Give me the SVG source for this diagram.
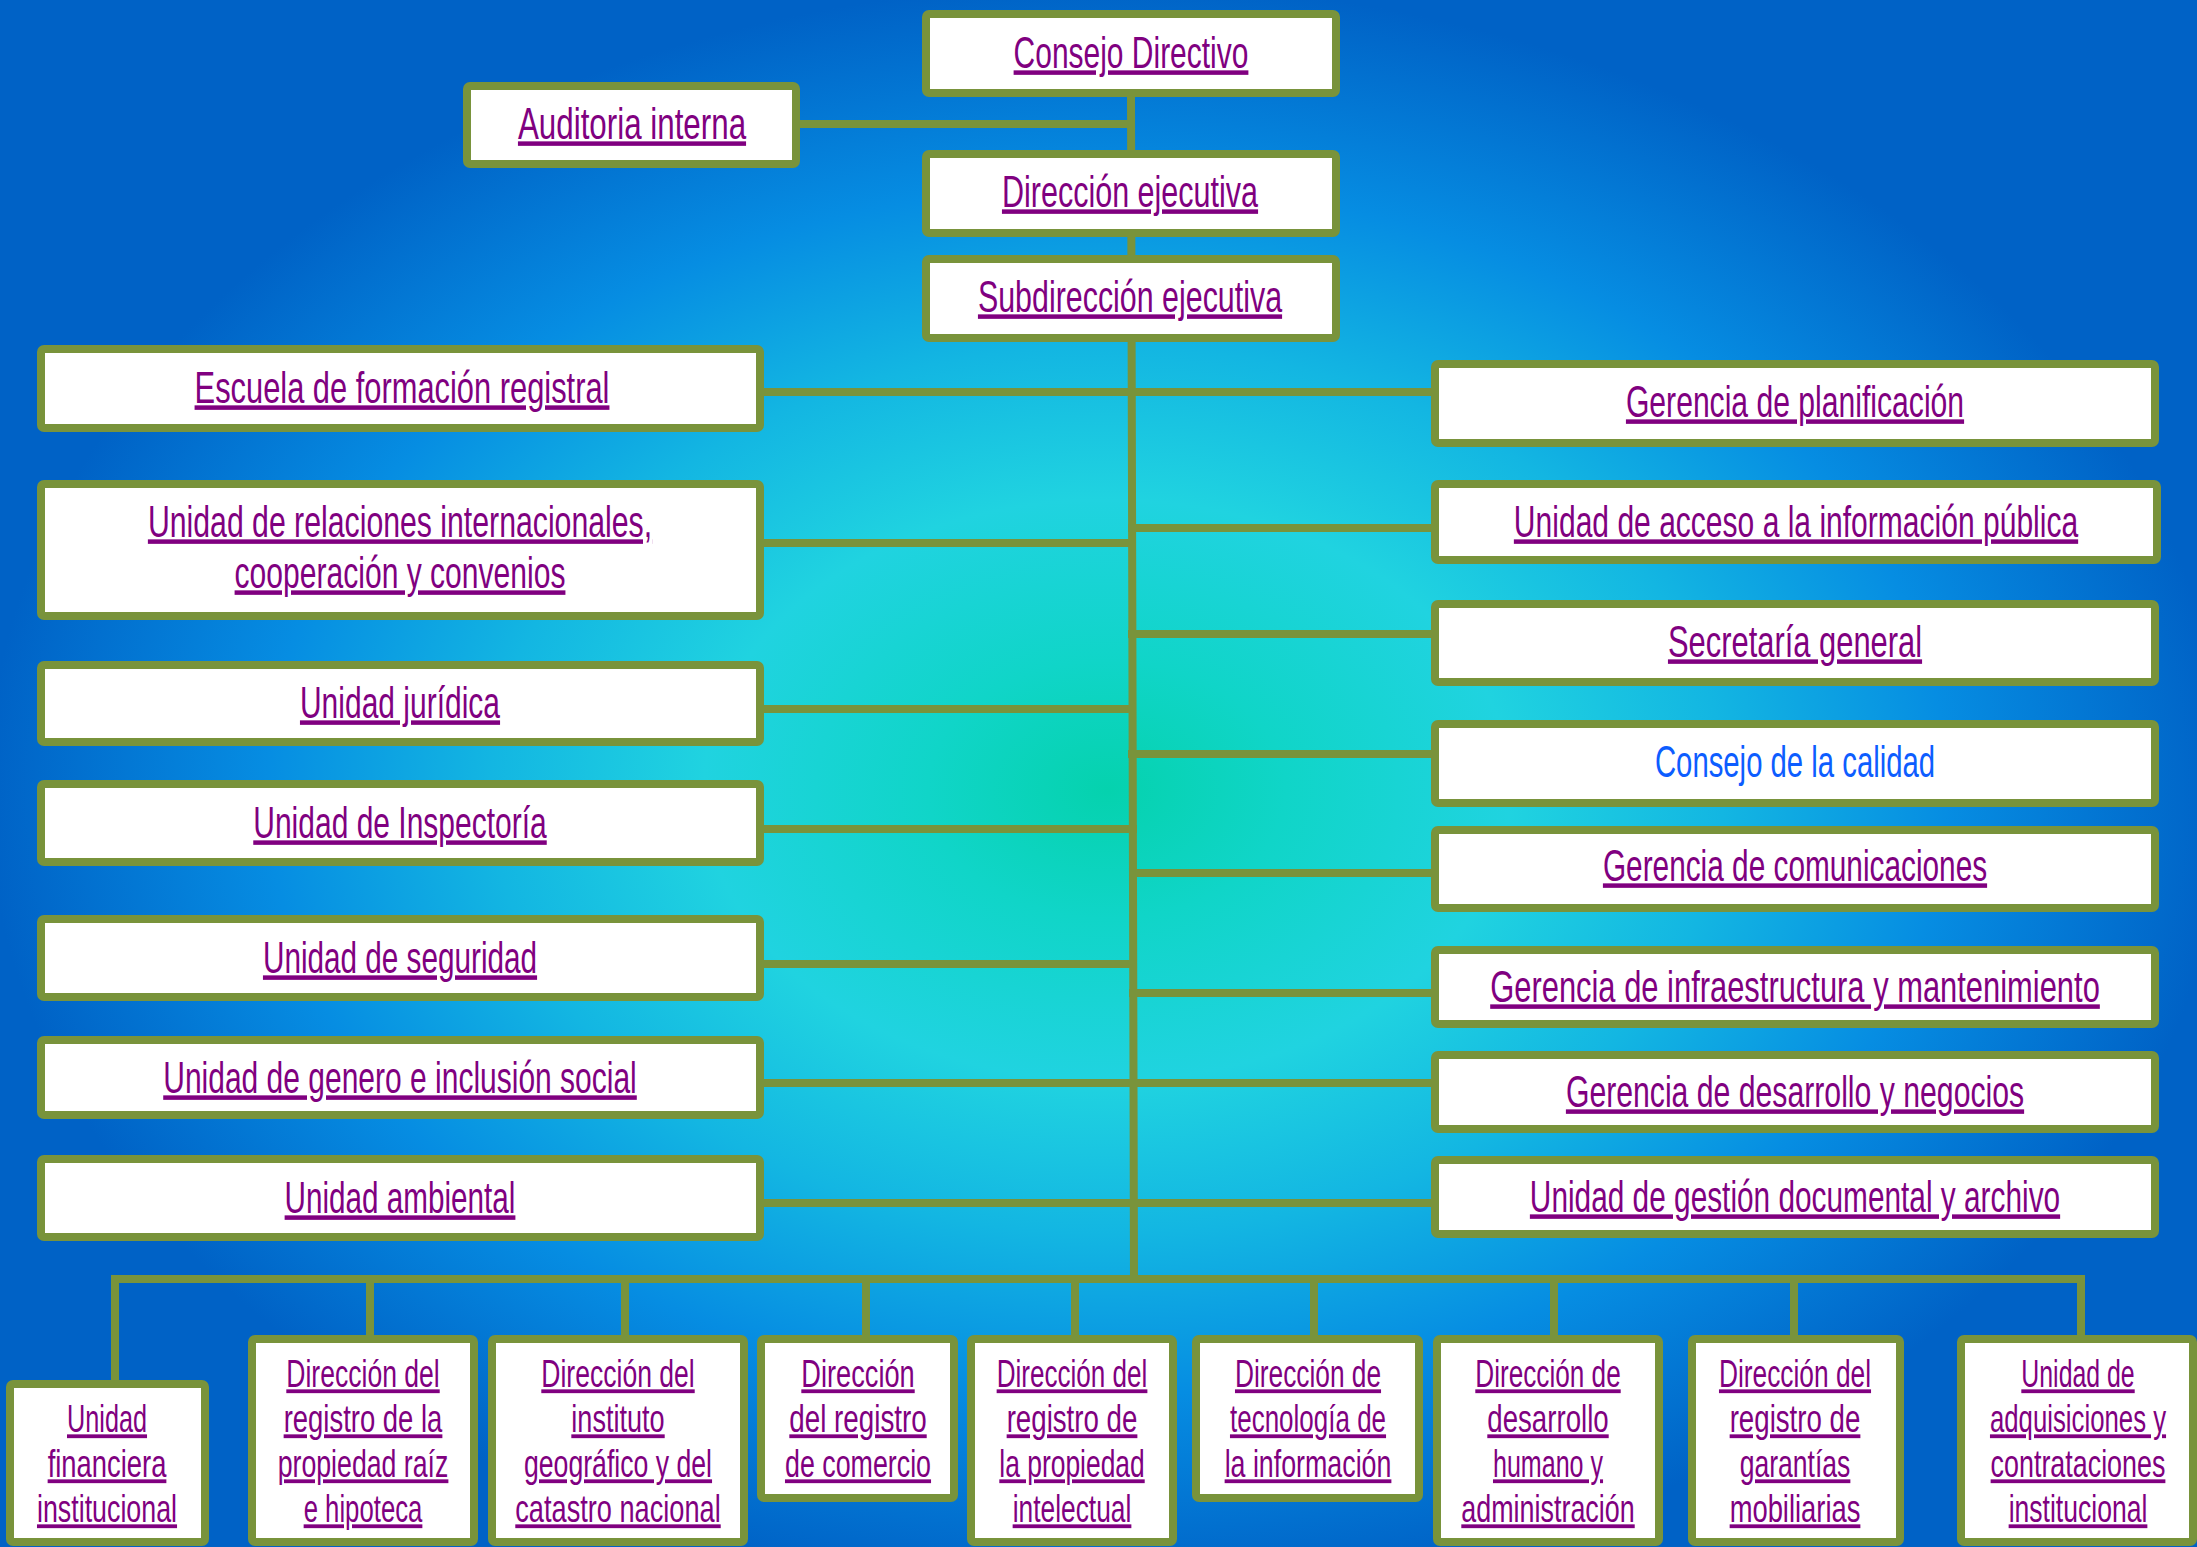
<svg xmlns="http://www.w3.org/2000/svg" width="2197" height="1547" viewBox="0 0 2197 1547">
<defs>
<radialGradient id="bg" gradientUnits="userSpaceOnUse" cx="1107" cy="790" r="1120" gradientTransform="translate(1107 790) scale(1 0.72) translate(-1107 -790)">
<stop offset="0" stop-color="#05d2ae"/>
<stop offset="0.16" stop-color="#10d5c8"/>
<stop offset="0.36" stop-color="#20d3e0"/>
<stop offset="0.55" stop-color="#13b6e2"/>
<stop offset="0.75" stop-color="#068de2"/>
<stop offset="1" stop-color="#0062c6"/>
</radialGradient>
<style>
.box{fill:#ffffff;stroke:#79933B;stroke-width:8;}
.c{fill:none;stroke:#79933B;stroke-width:8;stroke-linecap:square;}
.t{font-family:"Liberation Sans",Arial,sans-serif;font-size:45px;fill:#800080;text-anchor:middle;text-decoration:underline;}
.s{font-size:38px;}
.blue{fill:#0d5dff;text-decoration:none;}
</style>
</defs>
<rect x="0" y="0" width="2197" height="1547" fill="url(#bg)"/>

<g id="connectors">
<polyline class="c" points="1131,97 1134,1279"/>
<line class="c" x1="800" y1="124" x2="1131" y2="124"/>
<line class="c" x1="764" y1="392" x2="1431" y2="392"/>
<line class="c" x1="764" y1="543" x2="1132" y2="543"/>
<line class="c" x1="764" y1="709" x2="1132" y2="709"/>
<line class="c" x1="764" y1="829" x2="1133" y2="829"/>
<line class="c" x1="764" y1="964" x2="1133" y2="964"/>
<line class="c" x1="764" y1="1083" x2="1431" y2="1083"/>
<line class="c" x1="764" y1="1203" x2="1431" y2="1203"/>
<line class="c" x1="1132" y1="528" x2="1431" y2="528"/>
<line class="c" x1="1132" y1="634" x2="1431" y2="634"/>
<line class="c" x1="1132" y1="754" x2="1431" y2="754"/>
<line class="c" x1="1133" y1="873" x2="1431" y2="873"/>
<line class="c" x1="1133" y1="993" x2="1431" y2="993"/>
<polyline class="c" points="115,1384 115,1279 2081,1279 2081,1339"/>
<line class="c" x1="370" y1="1279" x2="370" y2="1339"/>
<line class="c" x1="625" y1="1279" x2="625" y2="1339"/>
<line class="c" x1="866" y1="1279" x2="866" y2="1339"/>
<line class="c" x1="1075" y1="1279" x2="1075" y2="1339"/>
<line class="c" x1="1314" y1="1279" x2="1314" y2="1339"/>
<line class="c" x1="1554" y1="1279" x2="1554" y2="1339"/>
<line class="c" x1="1794" y1="1279" x2="1794" y2="1339"/>
</g>

<g id="consejo-directivo"><rect class="box" x="926" y="14" width="410" height="79" rx="3"/><text class="t" transform="translate(1131 68) scale(0.667 1)" textLength="352" lengthAdjust="spacingAndGlyphs">Consejo Directivo</text></g>
<g id="auditoria-interna"><rect class="box" x="467" y="86" width="329" height="78" rx="3"/><text class="t" transform="translate(632 139) scale(0.667 1)" textLength="342" lengthAdjust="spacingAndGlyphs">Auditoria interna</text></g>
<g id="direccion-ejecutiva"><rect class="box" x="926" y="154" width="410" height="79" rx="3"/><text class="t" transform="translate(1130 207) scale(0.667 1)" textLength="384" lengthAdjust="spacingAndGlyphs">Dirección ejecutiva</text></g>
<g id="subdireccion-ejecutiva"><rect class="box" x="926" y="259" width="410" height="79" rx="3"/><text class="t" transform="translate(1130 312) scale(0.667 1)" textLength="456" lengthAdjust="spacingAndGlyphs">Subdirección ejecutiva</text></g>

<g id="escuela"><rect class="box" x="41" y="349" width="719" height="79" rx="3"/><text class="t" transform="translate(402 403) scale(0.667 1)" textLength="622" lengthAdjust="spacingAndGlyphs">Escuela de formación registral</text></g>
<g id="relaciones"><rect class="box" x="41" y="484" width="719" height="132" rx="3"/><text class="t" transform="translate(400 537) scale(0.667 1)" textLength="756" lengthAdjust="spacingAndGlyphs">Unidad de relaciones internacionales,</text><text class="t" transform="translate(400 588) scale(0.667 1)" textLength="496" lengthAdjust="spacingAndGlyphs">cooperación y convenios</text></g>
<g id="juridica"><rect class="box" x="41" y="665" width="719" height="77" rx="3"/><text class="t" transform="translate(400 718) scale(0.667 1)" textLength="300" lengthAdjust="spacingAndGlyphs">Unidad jurídica</text></g>
<g id="inspectoria"><rect class="box" x="41" y="784" width="719" height="78" rx="3"/><text class="t" transform="translate(400 838) scale(0.667 1)" textLength="440" lengthAdjust="spacingAndGlyphs">Unidad de Inspectoría</text></g>
<g id="seguridad"><rect class="box" x="41" y="919" width="719" height="78" rx="3"/><text class="t" transform="translate(400 973) scale(0.667 1)" textLength="411" lengthAdjust="spacingAndGlyphs">Unidad de seguridad</text></g>
<g id="genero"><rect class="box" x="41" y="1040" width="719" height="75" rx="3"/><text class="t" transform="translate(400 1093) scale(0.667 1)" textLength="710" lengthAdjust="spacingAndGlyphs">Unidad de genero e inclusión social</text></g>
<g id="ambiental"><rect class="box" x="41" y="1159" width="719" height="78" rx="3"/><text class="t" transform="translate(400 1213) scale(0.667 1)" textLength="346" lengthAdjust="spacingAndGlyphs">Unidad ambiental</text></g>

<g id="planificacion"><rect class="box" x="1435" y="364" width="720" height="79" rx="3"/><text class="t" transform="translate(1795 417) scale(0.667 1)" textLength="507" lengthAdjust="spacingAndGlyphs">Gerencia de planificación</text></g>
<g id="acceso-informacion"><rect class="box" x="1435" y="484" width="722" height="76" rx="3"/><text class="t" transform="translate(1796 537) scale(0.667 1)" textLength="846" lengthAdjust="spacingAndGlyphs">Unidad de acceso a la información pública</text></g>
<g id="secretaria"><rect class="box" x="1435" y="604" width="720" height="78" rx="3"/><text class="t" transform="translate(1795 657) scale(0.667 1)" textLength="381" lengthAdjust="spacingAndGlyphs">Secretaría general</text></g>
<g id="consejo-calidad"><rect class="box" x="1435" y="724" width="720" height="79" rx="3"/><text class="t blue" transform="translate(1795 777) scale(0.667 1)" textLength="420" lengthAdjust="spacingAndGlyphs">Consejo de la calidad</text></g>
<g id="comunicaciones"><rect class="box" x="1435" y="830" width="720" height="78" rx="3"/><text class="t" transform="translate(1795 881) scale(0.667 1)" textLength="576" lengthAdjust="spacingAndGlyphs">Gerencia de comunicaciones</text></g>
<g id="infraestructura"><rect class="box" x="1435" y="950" width="720" height="74" rx="3"/><text class="t" transform="translate(1795 1002) scale(0.667 1)" textLength="914" lengthAdjust="spacingAndGlyphs">Gerencia de infraestructura y mantenimiento</text></g>
<g id="desarrollo-negocios"><rect class="box" x="1435" y="1055" width="720" height="74" rx="3"/><text class="t" transform="translate(1795 1107) scale(0.667 1)" textLength="687" lengthAdjust="spacingAndGlyphs">Gerencia de desarrollo y negocios</text></g>
<g id="gestion-documental"><rect class="box" x="1435" y="1160" width="720" height="74" rx="3"/><text class="t" transform="translate(1795 1212) scale(0.667 1)" textLength="795" lengthAdjust="spacingAndGlyphs">Unidad de gestión documental y archivo</text></g>

<g id="financiera"><rect class="box" x="10" y="1384" width="195" height="158" rx="3"/>
<text class="t s" transform="translate(107 1432) scale(0.667 1)" textLength="120" lengthAdjust="spacingAndGlyphs">Unidad</text>
<text class="t s" transform="translate(107 1477) scale(0.667 1)" textLength="178" lengthAdjust="spacingAndGlyphs">financiera</text>
<text class="t s" transform="translate(107 1522) scale(0.667 1)" textLength="210" lengthAdjust="spacingAndGlyphs">institucional</text></g>
<g id="propiedad-raiz"><rect class="box" x="252" y="1339" width="222" height="203" rx="3"/>
<text class="t s" transform="translate(363 1387) scale(0.667 1)" textLength="230" lengthAdjust="spacingAndGlyphs">Dirección del</text>
<text class="t s" transform="translate(363 1432) scale(0.667 1)" textLength="238" lengthAdjust="spacingAndGlyphs">registro de la</text>
<text class="t s" transform="translate(363 1477) scale(0.667 1)" textLength="256" lengthAdjust="spacingAndGlyphs">propiedad raíz</text>
<text class="t s" transform="translate(363 1522) scale(0.667 1)" textLength="178" lengthAdjust="spacingAndGlyphs">e hipoteca</text></g>
<g id="instituto-geografico"><rect class="box" x="492" y="1339" width="252" height="203" rx="3"/>
<text class="t s" transform="translate(618 1387) scale(0.667 1)" textLength="230" lengthAdjust="spacingAndGlyphs">Dirección del</text>
<text class="t s" transform="translate(618 1432) scale(0.667 1)" textLength="140" lengthAdjust="spacingAndGlyphs">instituto</text>
<text class="t s" transform="translate(618 1477) scale(0.667 1)" textLength="282" lengthAdjust="spacingAndGlyphs">geográfico y del</text>
<text class="t s" transform="translate(618 1522) scale(0.667 1)" textLength="308" lengthAdjust="spacingAndGlyphs">catastro nacional</text></g>
<g id="registro-comercio"><rect class="box" x="761" y="1339" width="193" height="159" rx="3"/>
<text class="t s" transform="translate(858 1387) scale(0.667 1)" textLength="170" lengthAdjust="spacingAndGlyphs">Dirección</text>
<text class="t s" transform="translate(858 1432) scale(0.667 1)" textLength="206" lengthAdjust="spacingAndGlyphs">del registro</text>
<text class="t s" transform="translate(858 1477) scale(0.667 1)" textLength="219" lengthAdjust="spacingAndGlyphs">de comercio</text></g>
<g id="propiedad-intelectual"><rect class="box" x="971" y="1339" width="202" height="203" rx="3"/>
<text class="t s" transform="translate(1072 1387) scale(0.667 1)" textLength="226" lengthAdjust="spacingAndGlyphs">Dirección del</text>
<text class="t s" transform="translate(1072 1432) scale(0.667 1)" textLength="196" lengthAdjust="spacingAndGlyphs">registro de</text>
<text class="t s" transform="translate(1072 1477) scale(0.667 1)" textLength="218" lengthAdjust="spacingAndGlyphs">la propiedad</text>
<text class="t s" transform="translate(1072 1522) scale(0.667 1)" textLength="178" lengthAdjust="spacingAndGlyphs">intelectual</text></g>
<g id="tecnologia"><rect class="box" x="1196" y="1339" width="223" height="159" rx="3"/>
<text class="t s" transform="translate(1308 1387) scale(0.667 1)" textLength="219" lengthAdjust="spacingAndGlyphs">Dirección de</text>
<text class="t s" transform="translate(1308 1432) scale(0.667 1)" textLength="234" lengthAdjust="spacingAndGlyphs">tecnología de</text>
<text class="t s" transform="translate(1308 1477) scale(0.667 1)" textLength="250" lengthAdjust="spacingAndGlyphs">la información</text></g>
<g id="desarrollo-humano"><rect class="box" x="1437" y="1339" width="222" height="203" rx="3"/>
<text class="t s" transform="translate(1548 1387) scale(0.667 1)" textLength="218" lengthAdjust="spacingAndGlyphs">Dirección de</text>
<text class="t s" transform="translate(1548 1432) scale(0.667 1)" textLength="182" lengthAdjust="spacingAndGlyphs">desarrollo</text>
<text class="t s" transform="translate(1548 1477) scale(0.667 1)" textLength="165" lengthAdjust="spacingAndGlyphs">humano y</text>
<text class="t s" transform="translate(1548 1522) scale(0.667 1)" textLength="260" lengthAdjust="spacingAndGlyphs">administración</text></g>
<g id="garantias"><rect class="box" x="1692" y="1339" width="208" height="203" rx="3"/>
<text class="t s" transform="translate(1795 1387) scale(0.667 1)" textLength="228" lengthAdjust="spacingAndGlyphs">Dirección del</text>
<text class="t s" transform="translate(1795 1432) scale(0.667 1)" textLength="196" lengthAdjust="spacingAndGlyphs">registro de</text>
<text class="t s" transform="translate(1795 1477) scale(0.667 1)" textLength="166" lengthAdjust="spacingAndGlyphs">garantías</text>
<text class="t s" transform="translate(1795 1522) scale(0.667 1)" textLength="196" lengthAdjust="spacingAndGlyphs">mobiliarias</text></g>
<g id="adquisiciones"><rect class="box" x="1961" y="1339" width="232" height="203" rx="3"/>
<text class="t s" transform="translate(2078 1387) scale(0.667 1)" textLength="170" lengthAdjust="spacingAndGlyphs">Unidad de</text>
<text class="t s" transform="translate(2078 1432) scale(0.667 1)" textLength="264" lengthAdjust="spacingAndGlyphs">adquisiciones y</text>
<text class="t s" transform="translate(2078 1477) scale(0.667 1)" textLength="262" lengthAdjust="spacingAndGlyphs">contrataciones</text>
<text class="t s" transform="translate(2078 1522) scale(0.667 1)" textLength="208" lengthAdjust="spacingAndGlyphs">institucional</text></g>
</svg>
